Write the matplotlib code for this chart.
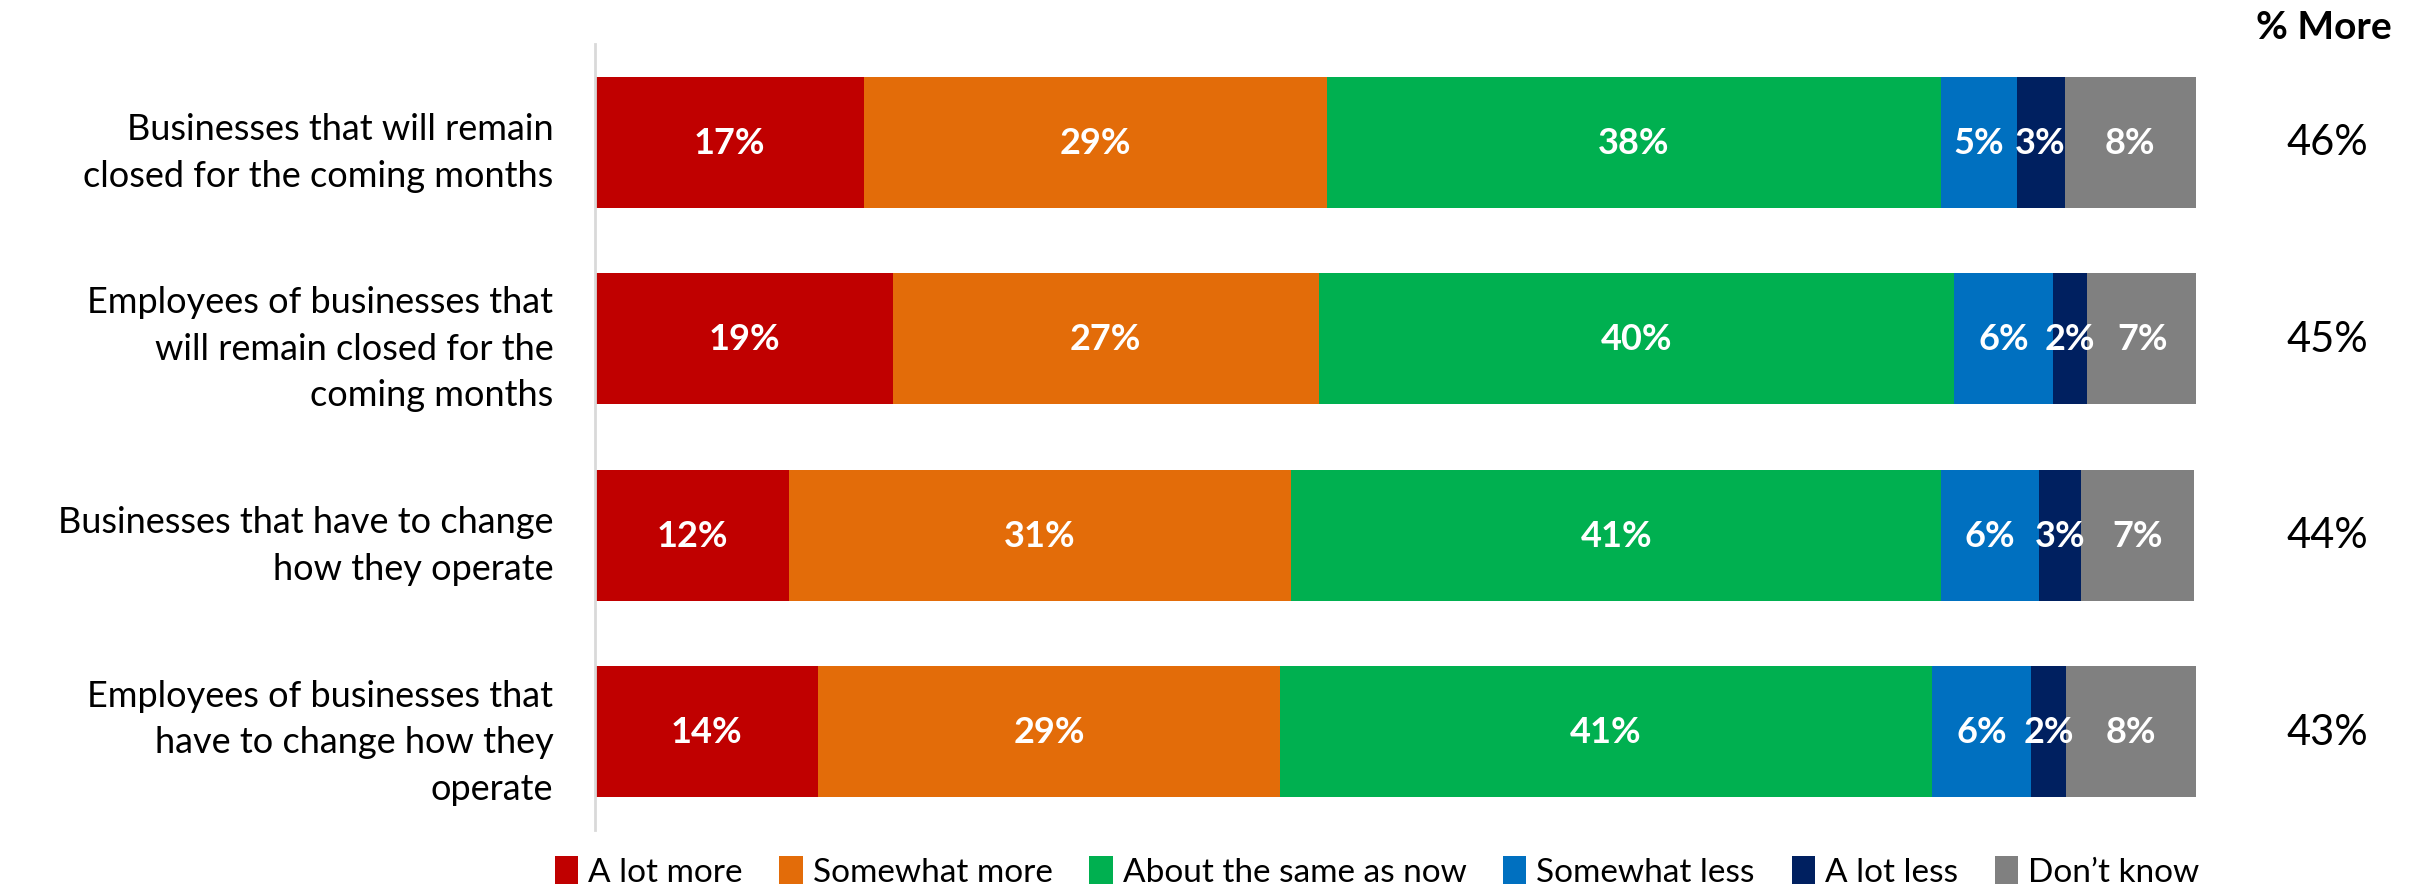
import matplotlib
matplotlib.use("Agg")
import matplotlib.pyplot as plt
import numpy as np
from matplotlib.patches import Patch

plt.rcParams['font.family'] = ['Lato', 'DejaVu Sans']

categories = [
    "Businesses that will remain\nclosed for the coming months",
    "Employees of businesses that\nwill remain closed for the\ncoming months",
    "Businesses that have to change\nhow they operate",
    "Employees of businesses that\nhave to change how they\noperate",
]
series_names = ["A lot more", "Somewhat more", "About the same as now",
                "Somewhat less", "A lot less", "Don\u2019t know"]
a_lot_more = [16.8, 18.6, 12.1, 13.9]
somewhat_more = [28.9, 26.6, 31.4, 28.9]
about_same = [38.4, 39.7, 40.6, 40.7]
somewhat_less = [4.7, 6.2, 6.1, 6.2]
a_lot_less = [3.0, 2.1, 2.65, 2.2]
dont_know = [8.2, 6.9, 7.0, 8.1]
pct_more = [46, 45, 44, 43]

series = [a_lot_more, somewhat_more, about_same, somewhat_less, a_lot_less, dont_know]
colors = ["#C00000", "#E36C09", "#00B050", "#0070C0", "#002060", "#808080"]

fig = plt.figure(figsize=(24.2, 8.87), dpi=100)
ax = fig.add_axes([0.2459, 0.0631, 0.9074 - 0.2459, 0.9493 - 0.0631])

y = np.arange(len(categories))
left = np.zeros(len(categories))
for vals, col, name in zip(series, colors, series_names):
    vals = np.array(vals)
    ax.barh(y, vals, left=left, height=0.665, color=col, label=name, edgecolor='none')
    for yi, l, v in zip(y, left, vals):
        ax.text(l + v / 2, yi, f"{int(v + 0.5):d}%", ha='center', va='center',
                color='white', fontsize=26, fontweight='bold')
    left += vals

ax.set_xlim(0, 100)
ax.set_ylim(3.5, -0.5)
ax.set_yticks(y)
ax.set_yticklabels(categories, fontsize=26, linespacing=1.5)
for t in ax.get_yticklabels():
    t.set_multialignment('right')
ax.tick_params(axis='y', length=0, pad=30)
ax.set_xticks([])
for s in ['top', 'right', 'bottom']:
    ax.spines[s].set_visible(False)
ax.spines['left'].set_color('#D9D9D9')
ax.spines['left'].set_linewidth(2)

for yi, p in zip(y, pct_more):
    ax.text(108.2, yi, f"{p}%", ha='center', va='center', fontsize=30, color='black')
ax.text(108.0, -0.5, "% More", ha='center', va='bottom', fontsize=28,
        fontweight='bold', color='black', transform=ax.transData, clip_on=False)

handles = [Patch(facecolor=c, label=n) for c, n in zip(colors, series_names)]
fig.legend(handles=handles, loc='center', bbox_to_anchor=(0.569, 0.016), ncol=6,
           frameon=False, fontsize=24, handlelength=0.7, handleheight=0.9,
           handletextpad=0.3, columnspacing=1.1)

fig.savefig("out.png", dpi=100)
